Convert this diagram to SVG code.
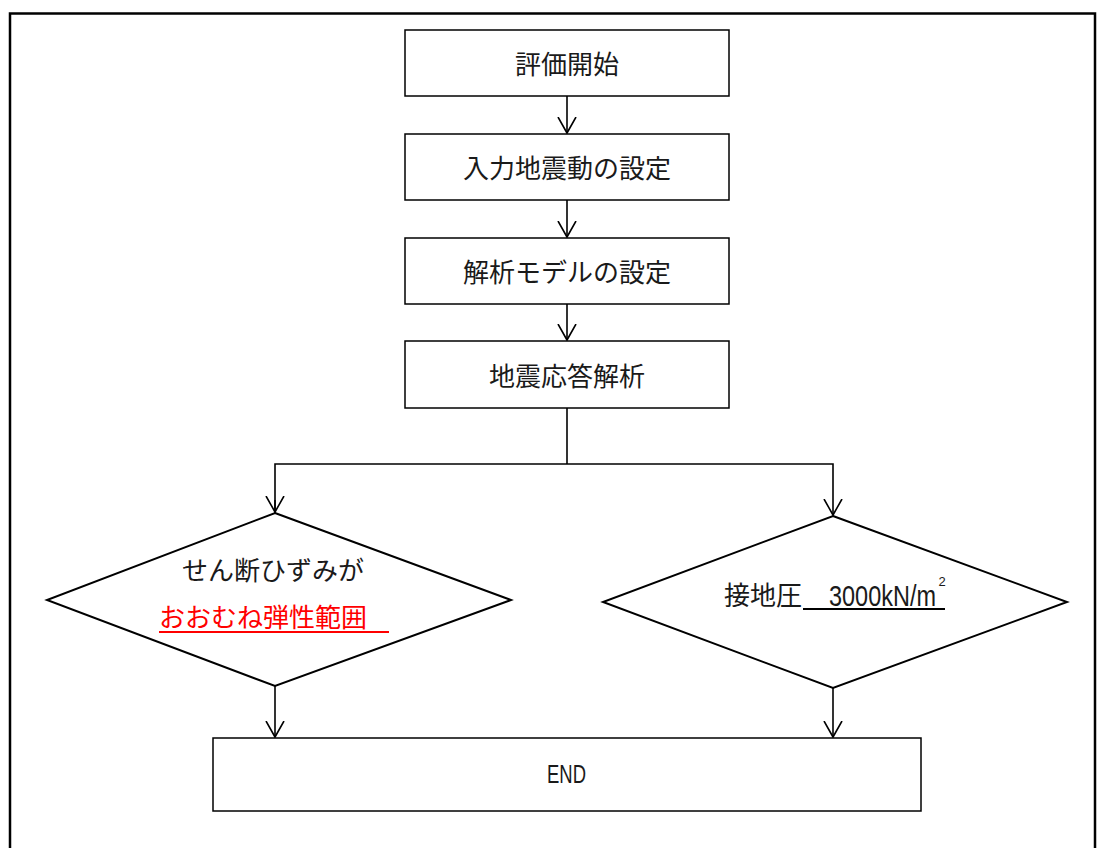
<svg xmlns="http://www.w3.org/2000/svg" width="1105" height="848" viewBox="0 0 1105 848">
<style>
.bg{fill:#fff}
.frame{fill:none;stroke:#000;stroke-width:2.5}
.box{fill:#fff;stroke:#000;stroke-width:1.5}
.dia{fill:#fff;stroke:#000;stroke-width:2}
.ln{fill:none;stroke:#000;stroke-width:1.6}
.t{font-family:"Noto Sans CJK JP","Noto Sans CJK SC",sans-serif;font-size:26px;fill:#1a1a1a}
.c{text-anchor:middle}
.n{font-family:"Liberation Sans","DejaVu Sans",sans-serif;font-size:26px;fill:#1a1a1a}
.red{fill:#ff0000}
</style>
<defs>
<marker id="arr" viewBox="0 0 20 20" markerWidth="20" markerHeight="20" refX="16" refY="10" orient="auto" markerUnits="userSpaceOnUse">
<path d="M0,1 L16,10 L0,19" fill="none" stroke="#000" stroke-width="1.6"/>
</marker>
</defs>
<rect class="bg" x="0" y="0" width="1105" height="848"/>
<rect class="frame" x="10" y="13.5" width="1085" height="850"/>

<g id="connectors">
<line class="ln" x1="567" y1="96" x2="567" y2="133" marker-end="url(#arr)"/>
<line class="ln" x1="567" y1="200" x2="567" y2="237" marker-end="url(#arr)"/>
<line class="ln" x1="567" y1="304" x2="567" y2="340" marker-end="url(#arr)"/>
<polyline class="ln" points="567,408 567,464"/>
<polyline class="ln" points="275,513 275,464 833,464 833,515" marker-end="url(#arr)"/>
<polyline class="ln" points="275,500 275,512" marker-end="url(#arr)"/>
<line class="ln" x1="275" y1="686" x2="275" y2="737" marker-end="url(#arr)"/>
<line class="ln" x1="833" y1="688" x2="833" y2="737" marker-end="url(#arr)"/>
</g>

<g id="start">
<rect class="box" x="405" y="30" width="324" height="66"/>
<text class="t c" x="567" y="74">評価開始</text>
</g>
<g id="input">
<rect class="box" x="405" y="134" width="324" height="66"/>
<text class="t c" x="567" y="178">入力地震動の設定</text>
</g>
<g id="model">
<rect class="box" x="405" y="238" width="324" height="66"/>
<text class="t c" x="567" y="282">解析モデルの設定</text>
</g>
<g id="analysis">
<rect class="box" x="405" y="341" width="324" height="67"/>
<text class="t c" x="567" y="386">地震応答解析</text>
</g>
<g id="shear">
<polygon class="dia" points="275,513 511,600 275,686 47,600"/>
<text class="t" x="182" y="580">せん断ひずみが</text>
<text class="t red" x="159" y="627">おおむね弾性範囲</text>
<line x1="159" y1="632" x2="389" y2="632" stroke="#ff0000" stroke-width="2"/>
</g>
<g id="pressure">
<polygon class="dia" points="833,516 1067,602 833,688 603,602"/>
<text class="t" x="724" y="605">接地圧</text>
<text class="n" x="829" y="606"><tspan style="font-size:30px" textLength="107" lengthAdjust="spacingAndGlyphs">3000kN/m</tspan><tspan x="938.5" dy="-20" style="font-size:13px">2</tspan></text>
<line x1="803" y1="609" x2="945" y2="609" stroke="#000" stroke-width="2"/>
</g>
<g id="end">
<rect class="box" x="213" y="738" width="708" height="73"/>
<text class="n" x="547" y="783" style="font-size:25px" textLength="39" lengthAdjust="spacingAndGlyphs">END</text>
</g>
</svg>
